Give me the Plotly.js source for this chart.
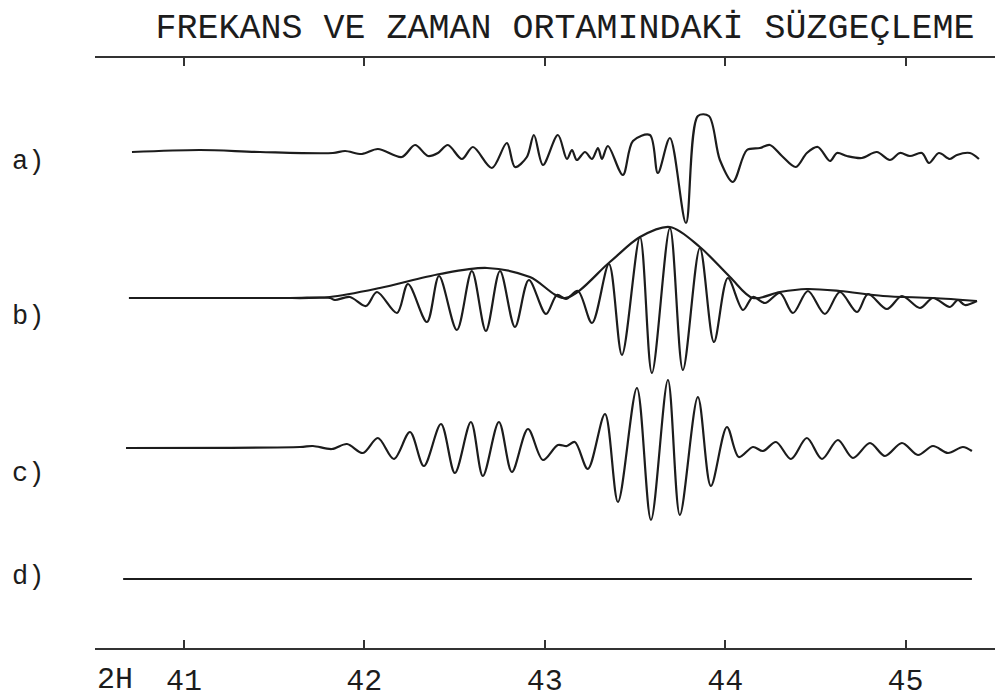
<!DOCTYPE html>
<html>
<head>
<meta charset="utf-8">
<script src="https://cdn.plot.ly/plotly-3.0.1.min.js"></script>
<style>
  html, body { margin: 0; padding: 0; background: #fff; }
  #chart { width: 1000px; height: 698px; }
</style>
</head>
<body>
<div id="chart"></div>
<script>
// Time axis in hours (2H 41 ... 45), deflections in arbitrary units (0 = rest line)

// a) raw record
var timeA = [40.712, 41.089, 41.421, 41.826, 41.893, 41.987, 42.075, 42.208, 42.281, 42.353,
             42.408, 42.463, 42.541, 42.602, 42.707, 42.790, 42.835, 42.901, 42.940, 42.990,
             43.073, 43.123, 43.151, 43.178, 43.223, 43.262, 43.295, 43.317, 43.350, 43.433,
             43.489, 43.583, 43.627, 43.694, 43.783, 43.849, 43.910, 43.971, 44.043, 44.121,
             44.193, 44.248, 44.315, 44.392, 44.453, 44.514, 44.581, 44.620, 44.675, 44.758,
             44.841, 44.913, 44.969, 45.024, 45.091, 45.130, 45.185, 45.246, 45.285, 45.357,
             45.407];
var ampA  = [0, 2, 0, -1, 1, -2, 3, -5, 7, -4,
             -1, 7, -7, 5, -16, 9, -15, -5, 17, -13,
             17, -7, 2, -8, 0, -7, 4, -7, 6, -23,
             11, 17, -21, 14, -71, 36, 36, -8, -30, 2,
             4, 7, -4, -15, -1, 5, -9, -1, -4, -6,
             0, -8, -1, -4, -1, -11, -1, -7, -3, -1,
             -7];

// b) filtered in frequency domain, with its envelope
var timeB = [40.695, 41.588, 41.809, 41.837, 41.920, 42.009, 42.070, 42.181, 42.242, 42.347,
             42.414, 42.513, 42.596, 42.674, 42.752, 42.835, 42.912, 43.007, 43.068, 43.118,
             43.184, 43.262, 43.356, 43.428, 43.528, 43.594, 43.694, 43.766, 43.860, 43.938,
             44.015, 44.099, 44.154, 44.221, 44.304, 44.376, 44.459, 44.553, 44.636, 44.731,
             44.792, 44.897, 44.980, 45.080, 45.152, 45.246, 45.290, 45.329, 45.396];
var ampB  = [0, 0, 0, -2, 1, -8, 6, -15, 14, -24,
             22, -32, 27, -33, 27, -29, 18, -16, 3, -1,
             7, -25, 34, -57, 61, -75, 70, -72, 50, -44,
             20, -12, 1, -5, 5, -15, 7, -16, 6, -14,
             4, -11, 2, -10, 0, -9, -2, -7, -3];

var timeEnv = [41.599, 41.809, 42.086, 42.419, 42.680, 42.918, 43.112, 43.361, 43.528, 43.694,
               43.860, 44.027, 44.154, 44.304, 44.453, 44.636, 44.875, 45.152, 45.396];
var ampEnv  = [0, 1, 10, 24, 30, 21, 0, 36, 61, 71,
               51, 21, 0, 6, 9, 7, 2, 0, -3];

// c) filtered in time domain
var timeC = [40.679, 41.643, 41.715, 41.820, 41.904, 41.992, 42.075, 42.164, 42.253, 42.330,
             42.425, 42.502, 42.591, 42.657, 42.746, 42.818, 42.907, 42.990, 43.073, 43.123,
             43.167, 43.239, 43.334, 43.406, 43.511, 43.589, 43.683, 43.749, 43.849, 43.921,
             44.010, 44.076, 44.154, 44.210, 44.282, 44.365, 44.453, 44.537, 44.625, 44.708,
             44.803, 44.886, 44.980, 45.069, 45.152, 45.235, 45.318, 45.368];
var ampC  = [0, 1, 2, -1, 4, -5, 10, -11, 16, -18,
             24, -25, 26, -28, 26, -24, 19, -12, 3, 2,
             6, -21, 34, -54, 60, -72, 68, -67, 51, -38,
             21, -9, 1, -3, 6, -11, 10, -11, 8, -10,
             5, -8, 5, -7, 2, -5, 1, -3];

// d) difference
var timeD = [40.663, 45.368];
var ampD  = [0, 0];

var tickVals = [41, 42, 43, 44, 45];
var tickText = ["41", "42", "43", "44", "45"];
var traceLabels = ["a)", "b)", "c)", "d)"];

// page layout (pixels)
var plotTop = 58, plotBottom = 648;
var restLines = [152, 298, 448, 579];
var labelRows = [162, 317, 474, 577];

var font = "Liberation Mono, DejaVu Sans Mono, monospace";
var ink = "#1c1c1c";

function yRange(rest) {
    return [-(plotBottom - rest), rest - plotTop];
}

function line(x, y, axis) {
    return {
        x: x, y: y, yaxis: axis, type: "scatter", mode: "lines",
        line: {color: ink, width: 2.2, shape: "spline", smoothing: 0.9},
        hoverinfo: "skip", showlegend: false
    };
}

var data = [
    line(timeA, ampA, "y"),
    line(timeB, ampB, "y2"),
    line(timeEnv, ampEnv, "y2"),
    line(timeC, ampC, "y3"),
    line(timeD, ampD, "y4")
];

var hidden = {visible: false, fixedrange: true};

var annotations = traceLabels.map(function (t, i) {
    return {
        text: t, xref: "paper", yref: "paper",
        x: (10 - 95) / 900, y: (plotBottom - labelRows[i]) / (plotBottom - plotTop),
        xanchor: "left", yanchor: "middle", showarrow: false,
        font: {family: font, size: 27, color: ink}
    };
});
annotations.push({
    text: "2H", xref: "paper", yref: "paper",
    x: 0, y: -0.055, xanchor: "left", yanchor: "middle", showarrow: false,
    font: {family: font, size: 30, color: ink}
});

var layout = {
    width: 1000, height: 698,
    margin: {l: 95, r: 5, t: plotTop, b: 698 - plotBottom},
    paper_bgcolor: "#fff", plot_bgcolor: "#fff",
    title: {
        text: "FREKANS VE ZAMAN ORTAMINDAKİ SÜZGEÇLEME",
        x: 0.565, xanchor: "center", xref: "container",
        y: 1 - 26 / 698, yanchor: "middle", yref: "container",
        font: {family: font, size: 35, color: ink}
    },
    xaxis: {
        range: [40.507, 45.496],
        tickvals: tickVals, ticktext: tickText,
        showgrid: false, zeroline: false,
        showline: true, mirror: "ticks", linewidth: 2, linecolor: "#333",
        ticks: "inside", ticklen: 8, tickwidth: 2, tickcolor: "#333",
        tickfont: {family: font, size: 30, color: ink},
        ticklabelstandoff: 4,
        fixedrange: true
    },
    yaxis: Object.assign({range: yRange(restLines[0])}, hidden),
    yaxis2: Object.assign({range: yRange(restLines[1]), overlaying: "y"}, hidden),
    yaxis3: Object.assign({range: yRange(restLines[2]), overlaying: "y"}, hidden),
    yaxis4: Object.assign({range: yRange(restLines[3]), overlaying: "y"}, hidden),
    annotations: annotations
};

Plotly.newPlot("chart", data, layout, {staticPlot: true});
</script>
</body>
</html>
